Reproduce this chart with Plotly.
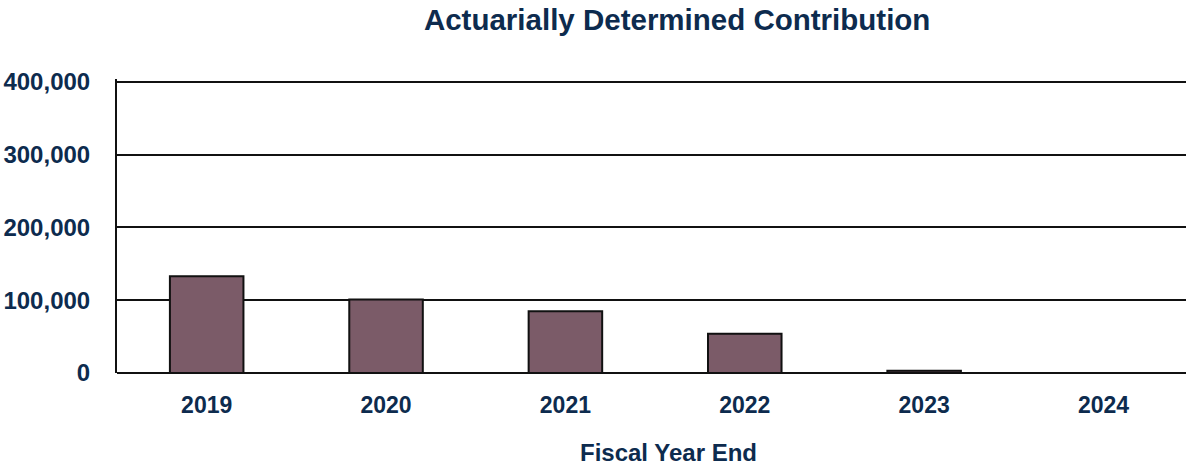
import plotly.graph_objects as go

years = ["2019", "2020", "2021", "2022", "2023", "2024"]
contribution = [133000, 101000, 85000, 54000, 3000, 0]
y_ticks = [0, 100000, 200000, 300000, 400000]
y_tick_labels = ["0", "100,000", "200,000", "300,000", "400,000"]

navy = "#0d2b4e"
font_family = "Liberation Sans, Arial, sans-serif"

fig = go.Figure(
    go.Bar(
        x=years,
        y=contribution,
        marker=dict(color="#7b5b68", line=dict(color="#111111", width=2)),
        width=0.41,
    )
)

fig.update_layout(
    width=1186,
    height=466,
    margin=dict(l=117, r=0, t=79, b=93, autoexpand=False),
    paper_bgcolor="white",
    plot_bgcolor="white",
    showlegend=False,
    title=dict(
        text="<b>Actuarially Determined Contribution</b>",
        x=0.524,
        xref="paper",
        xanchor="center",
        y=0.957,
        yanchor="middle",
        font=dict(family=font_family, size=29.5, color=navy),
    ),
    font=dict(family=font_family, color=navy),
    annotations=[
        dict(
            text="<b>Fiscal Year End</b>",
            xref="paper",
            yref="paper",
            x=0.516,
            y=-0.272,
            xanchor="center",
            yanchor="middle",
            showarrow=False,
            font=dict(family=font_family, size=24, color=navy),
        )
    ],
)

fig.update_xaxes(
    type="category",
    range=[-0.5, 5.46],
    automargin=False,
    showline=False,
    showgrid=False,
    ticks="",
    tickfont=dict(family=font_family, size=23, color=navy, weight="bold"),
    ticklabelstandoff=16,
)

fig.update_yaxes(
    automargin=False,
    range=[0, 404000],
    tickvals=y_ticks,
    ticktext=y_tick_labels,
    showgrid=True,
    gridcolor="#111111",
    gridwidth=2,
    showline=True,
    linecolor="#111111",
    linewidth=2,
    zeroline=True,
    zerolinecolor="#111111",
    zerolinewidth=2,
    ticks="",
    ticklabelstandoff=20,
    tickfont=dict(family=font_family, size=24, color=navy, weight="bold"),
)

fig.write_html(
    "out.html",
    config={"displayModeBar": False},
    post_script="document.body.style.margin='0px';document.body.style.overflow='hidden';",
)
